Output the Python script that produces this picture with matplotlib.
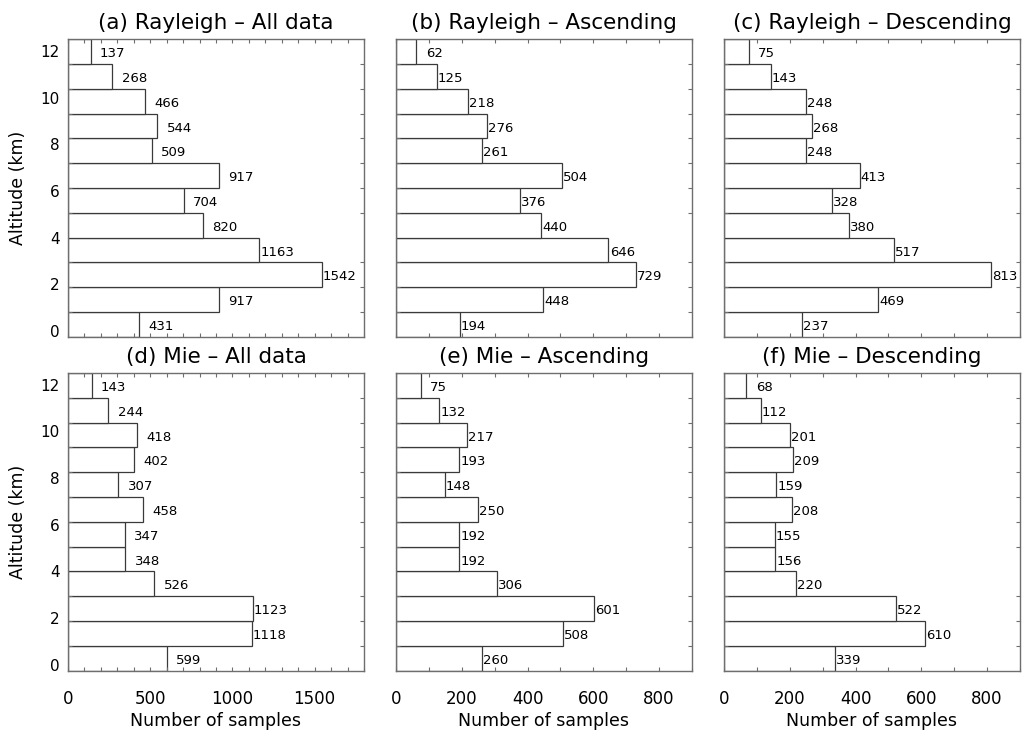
import numpy as np
import matplotlib
matplotlib.use("Agg")
import matplotlib.pyplot as plt
from matplotlib.ticker import MultipleLocator, FixedLocator

# -------------------------
# data (lowest altitude bin first)
# -------------------------
titles = ["(a) Rayleigh \u2013 All data", "(b) Rayleigh \u2013 Ascending", "(c) Rayleigh \u2013 Descending",
          "(d) Mie \u2013 All data", "(e) Mie \u2013 Ascending", "(f) Mie \u2013 Descending"]

rayleigh_all = [431, 917, 1542, 1163, 820, 704, 917, 509, 544, 466, 268, 137]
rayleigh_asc = [194, 448, 729, 646, 440, 376, 504, 261, 276, 218, 125, 62]
rayleigh_desc = [237, 469, 813, 517, 380, 328, 413, 248, 268, 248, 143, 75]
mie_all = [599, 1118, 1123, 526, 348, 347, 458, 307, 402, 418, 244, 143]
mie_asc = [260, 508, 601, 306, 192, 192, 250, 148, 193, 217, 132, 75]
mie_desc = [339, 610, 522, 220, 156, 155, 208, 159, 209, 201, 112, 68]

series = [rayleigh_all, rayleigh_asc, rayleigh_desc, mie_all, mie_asc, mie_desc]
xmax = [1800, 900, 900, 1800, 900, 900]
xmajor = [500, 200, 200, 500, 200, 200]
alt_ticks = [0, 2, 4, 6, 8, 10, 12]
ylim = (-0.25, 12.5)

# -------------------------
# figure
# -------------------------
W, H = 1022, 735
fig = plt.figure(figsize=(W / 100, H / 100), dpi=100)
plt.rcParams["font.family"] = ["DejaVu Sans"]

col_left = [68, 396, 724]
row_top = [39.3, 373]
ax_w, ax_h = 296, 297.5

frame_c = "#6e6e6e"
bar_c = "#3a3a3a"

for k, vals in enumerate(series):
    r, c = divmod(k, 3)
    l = col_left[c]
    t = row_top[r]
    ax = fig.add_axes([l / W, 1 - (t + ax_h) / H, ax_w / W, ax_h / H])

    n = len(vals)
    edges = np.linspace(ylim[0], ylim[1], n + 1)
    bh = edges[1] - edges[0]
    centers = edges[:-1] + bh / 2
    ax.barh(centers, vals, height=bh, color="white", edgecolor=bar_c, linewidth=0.9)

    # labels right-aligned to a fixed width (widest number in the panel)
    ndig = len(str(max(vals)))
    for yc, v in zip(centers, vals):
        ax.annotate(str(v), (v, yc), xytext=(0.8 + ndig * 6.05, -1.5), textcoords="offset points",
                    ha="right", va="center", fontsize=9.5, color="black")

    ax.set_xlim(0, xmax[k])
    ax.set_ylim(*ylim)

    ax.xaxis.set_major_locator(MultipleLocator(xmajor[k]))
    ax.xaxis.set_minor_locator(MultipleLocator(100))
    ax.yaxis.set_major_locator(FixedLocator(alt_ticks))
    ax.yaxis.set_minor_locator(FixedLocator(edges[1:-1]))

    ax.tick_params(axis="both", which="both", direction="in", top=True, right=True,
                   color=frame_c, width=0.8)
    ax.tick_params(axis="x", which="both", length=3)
    ax.tick_params(axis="x", which="major", pad=14, labelsize=12)
    ax.tick_params(axis="y", which="major", length=0, pad=6, labelsize=11)
    ax.tick_params(axis="y", which="minor", length=3)

    for sp in ax.spines.values():
        sp.set_color(frame_c)
        sp.set_linewidth(1.0)

    ax.set_title(titles[k], fontsize=15.5, pad=7.5)

    if c == 0:
        ax.set_ylabel("Altitude (km)", fontsize=12.5, labelpad=10)
    else:
        ax.set_yticklabels([])
    if r == 1:
        ax.set_xlabel("Number of samples", fontsize=12.5, labelpad=3)
    else:
        ax.set_xticklabels([])

fig.savefig("out.png", dpi=100)
